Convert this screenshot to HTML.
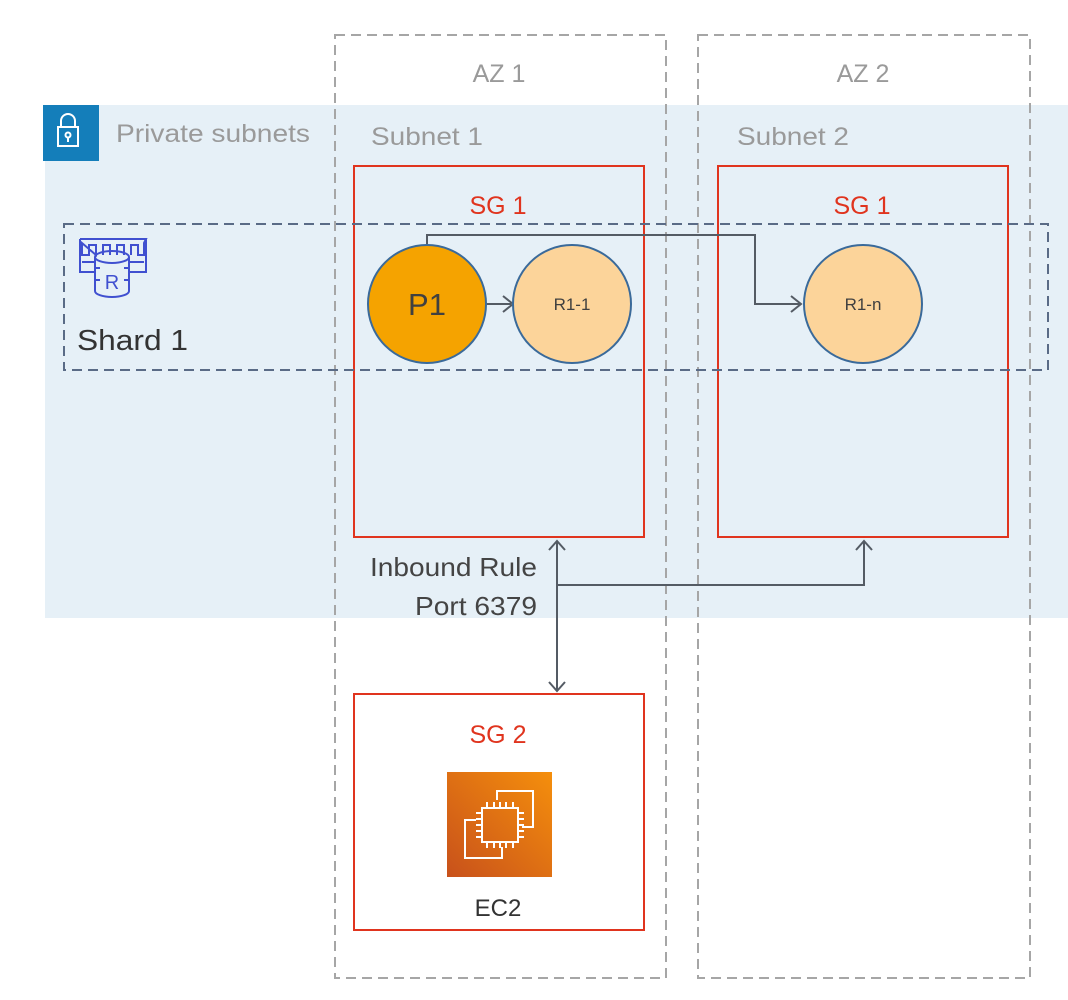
<!DOCTYPE html>
<html><head><meta charset="utf-8"><style>
html,body{margin:0;padding:0;background:#fff;}
svg{display:block;font-family:"Liberation Sans",sans-serif;}
</style></head><body>
<svg width="1068" height="1000" viewBox="0 0 1068 1000" xmlns="http://www.w3.org/2000/svg">
<rect x="0" y="0" width="1068" height="1000" fill="#fff"/>
<rect x="45" y="105" width="1023" height="513" fill="#e6f0f7"/>
<rect x="43" y="105" width="56" height="56" fill="#147eba"/>
<g fill="none" stroke="#fff" stroke-width="2">
<rect x="58" y="127" width="20" height="19"/>
<path d="M61 127 v-6 a7 7 0 0 1 14 0 v6"/>
<circle cx="68" cy="135" r="2.5"/>
<line x1="68" y1="137" x2="68" y2="142"/>
</g>
<text x="116" y="142" font-size="25" fill="#9a9a9a" textLength="194" lengthAdjust="spacingAndGlyphs">Private subnets</text>
<g fill="none" stroke="#a6a6a6" stroke-width="2" stroke-dasharray="10,6">
<rect x="335" y="35" width="331" height="943"/>
<rect x="698" y="35" width="332" height="943"/>
</g>
<text x="499" y="82" font-size="25" fill="#9a9a9a" text-anchor="middle">AZ 1</text>
<text x="863" y="82" font-size="25" fill="#9a9a9a" text-anchor="middle">AZ 2</text>
<text x="371" y="145" font-size="25" fill="#9a9a9a" textLength="112" lengthAdjust="spacingAndGlyphs">Subnet 1</text>
<text x="737" y="145" font-size="25" fill="#9a9a9a" textLength="112" lengthAdjust="spacingAndGlyphs">Subnet 2</text>
<g fill="none" stroke="#e0341e" stroke-width="2">
<rect x="354" y="166" width="290" height="371"/>
<rect x="718" y="166" width="290" height="371"/>
<rect x="354" y="694" width="290" height="236"/>
</g>
<text x="498" y="214" font-size="25" fill="#e0341e" text-anchor="middle">SG 1</text>
<text x="862" y="214" font-size="25" fill="#e0341e" text-anchor="middle">SG 1</text>
<text x="498" y="743" font-size="25" fill="#e0341e" text-anchor="middle">SG 2</text>
<rect x="64" y="224" width="984" height="146" fill="none" stroke="#5a6b86" stroke-width="2" stroke-dasharray="10,6"/>
<g fill="none" stroke="#4050d0" stroke-width="2">
<path d="M80 239 H146 L144 243 V255 H138 V245 H131 V255 M124 255 V245 H117 V255 M110 255 V245 H103 V255 M96 255 V245 H89 V255 H82 L82 243 Z"/>
<path d="M80 239 V272 H94 M146 239 V272 H130 M82 262 H94 M144 262 H130"/>
<ellipse cx="112" cy="257" rx="17" ry="6"/>
<path d="M95 257 V291 a17 6 0 0 0 34 0 V257"/>
<path d="M95 268 h5 M95 280 h5 M129 268 h-5 M129 280 h-5"/>
</g>
<text x="112" y="289" font-size="20" fill="#4050d0" text-anchor="middle">R</text>
<text x="77" y="350" font-size="29" fill="#333" textLength="111" lengthAdjust="spacingAndGlyphs">Shard 1</text>
<g fill="none" stroke="#545b64" stroke-width="2">
<path d="M427 244 V235 H755 V304 H801"/>
<path d="M791 296 l10 8 l-10 8"/>
<path d="M487 304 H511"/>
<path d="M503 296 l10 8 l-10 8"/>
<path d="M557 541 V691"/>
<path d="M549 550 l8 -9 l8 9"/>
<path d="M549 682 l8 9 l8 -9"/>
<path d="M557 585 H864 V541"/>
<path d="M856 550 l8 -9 l8 9"/>
</g>
<circle cx="427" cy="304" r="59" fill="#f5a300" stroke="#3a6a9a" stroke-width="2"/>
<circle cx="572" cy="304" r="59" fill="#fcd49a" stroke="#3a6a9a" stroke-width="2"/>
<circle cx="863" cy="304" r="59" fill="#fcd49a" stroke="#3a6a9a" stroke-width="2"/>
<text x="427" y="315" font-size="31" fill="#404040" text-anchor="middle">P1</text>
<text x="572" y="310" font-size="17" fill="#404040" text-anchor="middle">R1-1</text>
<text x="863" y="310" font-size="17" fill="#404040" text-anchor="middle">R1-n</text>
<text x="537" y="576" font-size="26" fill="#444" text-anchor="end" textLength="167" lengthAdjust="spacingAndGlyphs">Inbound Rule</text>
<text x="537" y="615" font-size="26" fill="#444" text-anchor="end" textLength="122" lengthAdjust="spacingAndGlyphs">Port 6379</text>
<defs><linearGradient id="g" x1="0" y1="1" x2="1" y2="0">
<stop offset="0" stop-color="#c8511b"/><stop offset="1" stop-color="#f58f0c"/></linearGradient></defs>
<rect x="447" y="772" width="105" height="105" fill="url(#g)"/>
<g fill="none" stroke="#fff" stroke-width="2">
<path d="M497 800 V791 H533 V827 H522"/>
<path d="M476 820 H465 V858 H502 V847"/>
<rect x="482" y="808" width="36" height="34"/>
<path d="M487 802 v6 M494 802 v6 M500 802 v6 M506 802 v6 M513 802 v6 M487 842 v6 M494 842 v6 M500 842 v6 M506 842 v6 M513 842 v6 M476 813 h6 M476 819 h6 M476 825 h6 M476 831 h6 M476 837 h6 M518 813 h6 M518 819 h6 M518 825 h6 M518 831 h6 M518 837 h6"/>
</g>
<text x="498" y="916" font-size="24" fill="#333" text-anchor="middle">EC2</text>
</svg>
</body></html>
